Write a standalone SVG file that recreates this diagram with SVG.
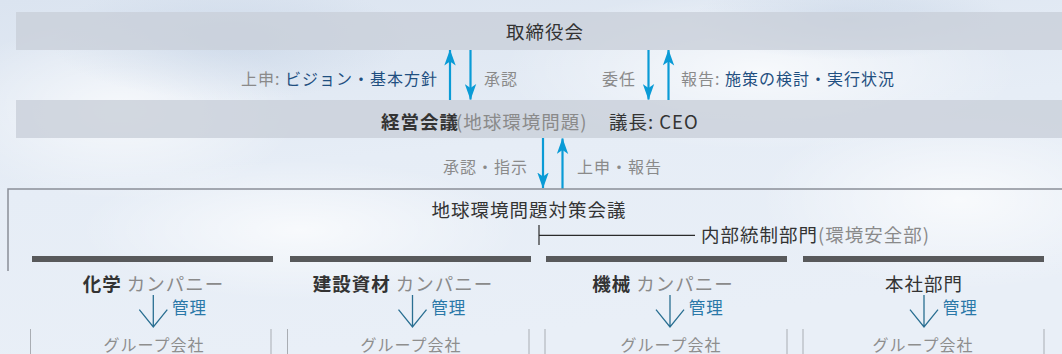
<svg xmlns="http://www.w3.org/2000/svg" width="1062" height="354" viewBox="0 0 1062 354">
  <defs>
    <linearGradient id="sky" x1="0" y1="0" x2="0.3" y2="1">
      <stop offset="0" stop-color="#dbe4f0"/>
      <stop offset="0.5" stop-color="#e6edf6"/>
      <stop offset="1" stop-color="#e9eff7"/>
    </linearGradient>
    <radialGradient id="cloud" cx="0.5" cy="0.5" r="0.5">
      <stop offset="0" stop-color="#ffffff" stop-opacity="0.7"/>
      <stop offset="1" stop-color="#ffffff" stop-opacity="0"/>
    </radialGradient>
    <radialGradient id="shade" cx="0.5" cy="0.5" r="0.5">
      <stop offset="0" stop-color="#c4d2e4" stop-opacity="0.6"/>
      <stop offset="1" stop-color="#c4d2e4" stop-opacity="0"/>
    </radialGradient>
    <marker id="ah" viewBox="0 0 16 12" refX="15.5" refY="6" markerWidth="16" markerHeight="12" markerUnits="userSpaceOnUse" orient="auto">
      <path d="M16 6 L0 0.3 L4 6 L0 11.7 Z" fill="#0a9bd6"/>
    </marker>
    <style>
      text { font-family: "Noto Sans CJK JP", "Noto Sans", sans-serif; }
      .main { font-size: 18.5px; fill: #333333; letter-spacing: 1px; }
      .lbl { font-size: 16px; fill: #8a8a8a; letter-spacing: 1px; }
      .blue { fill: #1f4f80; }
      .gray { fill: #8a8a8a; }
      .dark { fill: #333333; }
      .bold { font-weight: 700; }
      .bar { fill: #c9cfd9; opacity: 0.8; }
      .flow { stroke: #0a9bd6; stroke-width: 2.2; fill: none; }
      .dbar { fill: #58595b; }
      .frame { stroke: #8a8f98; stroke-width: 1.5; fill: none; }
      .thin { stroke: #2b2b2b; stroke-width: 1.2; fill: none; }
      .varr { stroke: #2a6f92; stroke-width: 1.3; fill: none; }
      .kanri { font-size: 16.5px; fill: #2a78a8; letter-spacing: 1px; }
      .vline { stroke: #a9adb3; stroke-width: 1; }
      .grp { font-size: 16px; fill: #8e8e8e; letter-spacing: 1px; }
    </style>
  </defs>

  <!-- background -->
  <rect x="0" y="0" width="1062" height="354" fill="url(#sky)"/>
  <ellipse cx="120" cy="110" rx="180" ry="90" fill="url(#cloud)"/>
  <ellipse cx="760" cy="70" rx="260" ry="80" fill="url(#cloud)"/>
  <ellipse cx="960" cy="200" rx="200" ry="90" fill="url(#cloud)"/>
  <ellipse cx="300" cy="230" rx="220" ry="70" fill="url(#cloud)"/>
  <ellipse cx="230" cy="40" rx="180" ry="60" fill="url(#shade)"/>
  <ellipse cx="850" cy="20" rx="160" ry="40" fill="url(#shade)"/>

  <g id="board">
    <rect class="bar" x="16" y="12" width="1046" height="38"/>
    <text class="main" x="545" y="39" text-anchor="middle">取締役会</text>
  </g>

  <g id="management">
    <rect class="bar" x="16" y="100" width="1046" height="38"/>
    <text class="main"><tspan x="381" y="128.5" class="dark bold">経営会議</tspan><tspan x="456" y="128.5" class="gray">(地球環境問題)</tspan><tspan x="609" y="128.5" class="dark">議長: CEO</tspan></text>
  </g>

  <g id="labels">
    <text class="lbl" x="438" y="85" text-anchor="end"><tspan class="gray">上申: </tspan><tspan class="blue">ビジョン・基本方針</tspan></text>
    <text class="lbl" x="484" y="85">承認</text>
    <text class="lbl" x="636" y="85" text-anchor="end">委任</text>
    <text class="lbl" x="681" y="85"><tspan class="gray">報告: </tspan><tspan class="blue">施策の検討・実行状況</tspan></text>
    <text class="lbl" x="528" y="173" text-anchor="end">承認・指示</text>
    <text class="lbl" x="577" y="173">上申・報告</text>
  </g>

  <g id="connectors">
    <line class="flow" x1="450" y1="100" x2="450" y2="50" marker-end="url(#ah)"/>
    <line class="flow" x1="470.5" y1="50" x2="470.5" y2="99.5" marker-end="url(#ah)"/>
    <line class="flow" x1="648.5" y1="50" x2="648.5" y2="99.5" marker-end="url(#ah)"/>
    <line class="flow" x1="668.5" y1="100" x2="668.5" y2="50" marker-end="url(#ah)"/>
    <line class="flow" x1="543" y1="138" x2="543" y2="188" marker-end="url(#ah)"/>
    <line class="flow" x1="562.5" y1="189" x2="562.5" y2="138.5" marker-end="url(#ah)"/>
  </g>

  <g id="committee">
    <path class="frame" d="M8 271 V189 H1062"/>
    <text class="main" x="529" y="217" text-anchor="middle">地球環境問題対策会議</text>
  </g>

  <g id="internal-control">
    <line class="thin" x1="539" y1="225" x2="539" y2="245"/>
    <line class="thin" x1="539" y1="235.3" x2="695" y2="235.3"/>
    <text class="main" x="701" y="241.5"><tspan class="dark">内部統制部門</tspan><tspan class="gray">(環境安全部)</tspan></text>
  </g>

  <g id="col-chemical">
    <rect class="dbar" x="32" y="256" width="241" height="6"/>
    <text class="main" x="153.5" y="290.5" text-anchor="middle"><tspan class="dark bold">化学</tspan><tspan class="gray"> カンパニー</tspan></text>
    <path class="varr" d="M153.3 295 V327 M139.3 309.7 L153.3 327 L167.3 309.7"/>
    <text class="kanri" x="172" y="314">管理</text>
    <line class="vline" x1="30.5" y1="329" x2="30.5" y2="354"/>
    <line class="vline" x1="271" y1="329" x2="271" y2="354"/>
    <text class="grp" x="154" y="351" text-anchor="middle">グループ会社</text>
  </g>

  <g id="col-construction">
    <rect class="dbar" x="290" y="256" width="241" height="6"/>
    <text class="main" x="403" y="290.5" text-anchor="middle"><tspan class="dark bold">建設資材</tspan><tspan class="gray"> カンパニー</tspan></text>
    <path class="varr" d="M412.5 295 V327 M398.5 309.7 L412.5 327 L426.5 309.7"/>
    <text class="kanri" x="431.2" y="314">管理</text>
    <line class="vline" x1="287.5" y1="329" x2="287.5" y2="354"/>
    <line class="vline" x1="529" y1="329" x2="529" y2="354"/>
    <text class="grp" x="411" y="351" text-anchor="middle">グループ会社</text>
  </g>

  <g id="col-machinery">
    <rect class="dbar" x="546" y="256" width="241" height="6"/>
    <text class="main" x="663" y="290.5" text-anchor="middle"><tspan class="dark bold">機械</tspan><tspan class="gray"> カンパニー</tspan></text>
    <path class="varr" d="M670 295 V327 M656 309.7 L670 327 L684 309.7"/>
    <text class="kanri" x="688.7" y="314">管理</text>
    <line class="vline" x1="545" y1="329" x2="545" y2="354"/>
    <line class="vline" x1="787" y1="329" x2="787" y2="354"/>
    <text class="grp" x="671" y="351" text-anchor="middle">グループ会社</text>
  </g>

  <g id="col-headquarters">
    <rect class="dbar" x="803" y="256" width="241" height="6"/>
    <text class="main dark" x="924" y="290.5" text-anchor="middle">本社部門</text>
    <path class="varr" d="M924 295 V327 M910 309.7 L924 327 L938 309.7"/>
    <text class="kanri" x="942.7" y="314">管理</text>
    <line class="vline" x1="803" y1="329" x2="803" y2="354"/>
    <line class="vline" x1="1044" y1="329" x2="1044" y2="354"/>
    <text class="grp" x="923" y="351" text-anchor="middle">グループ会社</text>
  </g>
</svg>
